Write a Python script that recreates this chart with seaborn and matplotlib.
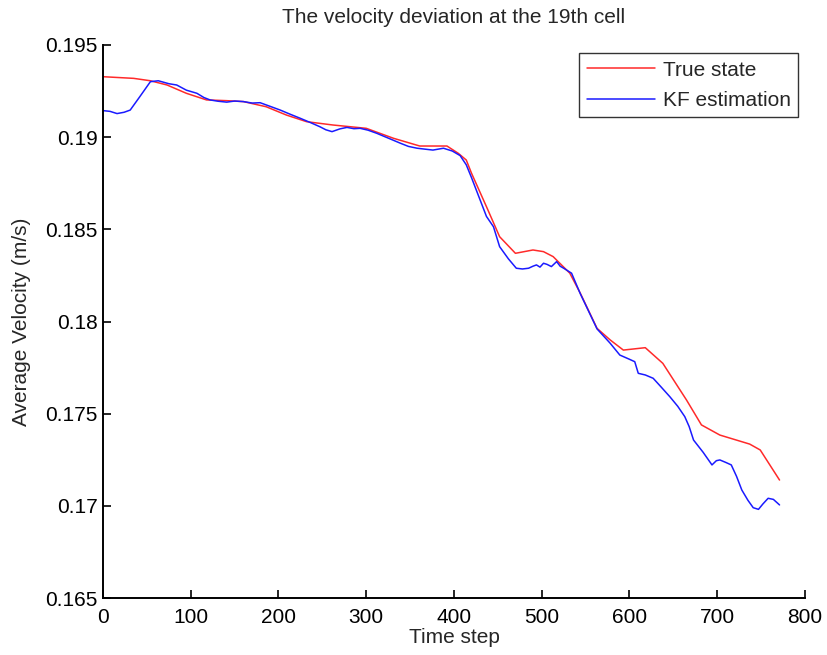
import numpy as np
import pandas as pd
import matplotlib
matplotlib.use("Agg")
import matplotlib.pyplot as plt
import seaborn as sns

# True state (red)
true_t = [0, 35, 54, 73, 95, 118, 141, 160, 186, 209, 232, 262, 300, 331, 361,
          392, 405, 414, 420, 437, 452, 470, 490, 502, 513, 532, 544, 563, 578,
          593, 618, 638, 665, 682, 703, 737, 749, 771]
true_v = [0.19328, 0.19319, 0.19306, 0.19283, 0.19238, 0.19202, 0.19198, 0.19193,
          0.19165, 0.1912, 0.19084, 0.19066, 0.19048, 0.18994, 0.18952, 0.18952,
          0.18912, 0.18876, 0.18804, 0.18623, 0.1846, 0.1837, 0.18388, 0.18379,
          0.18352, 0.18262, 0.18153, 0.17963, 0.1790, 0.17845, 0.17858, 0.17773,
          0.17574, 0.17439, 0.17384, 0.17335, 0.17303, 0.1714]

# KF estimation (blue)
kf_t = [0, 8, 16, 24, 31, 42, 54, 63, 75, 84, 95, 107, 115, 122, 131, 141, 150,
        160, 170, 179, 190, 202, 213, 225, 236, 247, 254, 261, 270, 278, 286, 293,
        302, 312, 325, 339, 348, 358, 367, 376, 388, 398, 407, 414, 420, 437, 445,
        452, 462, 471, 478, 485, 490, 494, 498, 502, 506, 511, 517, 521, 525, 534,
        544, 563, 578, 589, 600, 606, 610, 618, 627, 636, 646, 655, 663, 668, 673,
        684, 694, 699, 703, 710, 716, 722, 728, 735, 741, 747, 752, 758, 764, 771]
kf_v = [0.19144, 0.19140, 0.19128, 0.19135, 0.19147, 0.1922, 0.19301, 0.19306,
        0.19290, 0.19283, 0.19255, 0.19238, 0.19215, 0.19202, 0.19195, 0.19190,
        0.19196, 0.19193, 0.19185, 0.19187, 0.19168, 0.19147, 0.19125, 0.19102,
        0.19080, 0.19057, 0.19040, 0.19030, 0.19045, 0.19053, 0.19046, 0.19048,
        0.19038, 0.19021, 0.18995, 0.18967, 0.18950, 0.18940, 0.18935, 0.18930,
        0.18940, 0.18925, 0.18900, 0.18850, 0.1878, 0.1857, 0.18514, 0.18406,
        0.18340, 0.18289, 0.18285, 0.18289, 0.18300, 0.18307, 0.18295, 0.18316,
        0.18310, 0.18298, 0.18325, 0.18300, 0.18289, 0.18262, 0.1815, 0.1796,
        0.17882, 0.17818, 0.17795, 0.17782, 0.17719, 0.17710, 0.17692, 0.17645,
        0.17592, 0.17540, 0.17484, 0.17430, 0.17357, 0.17290, 0.17222, 0.17245,
        0.17249, 0.17235, 0.17222, 0.17160, 0.17086, 0.17030, 0.16990, 0.16981,
        0.17010, 0.17041, 0.17035, 0.17005]

x_ticks = [0, 100, 200, 300, 400, 500, 600, 700, 800]
y_ticks = [0.165, 0.17, 0.175, 0.18, 0.185, 0.19, 0.195]
y_labels = ["0.165", "0.17", "0.175", "0.18", "0.185", "0.19", "0.195"]

df = pd.concat([
    pd.DataFrame({"t": true_t, "v": true_v, "series": "True state"}),
    pd.DataFrame({"t": kf_t, "v": kf_v, "series": "KF estimation"}),
])

sns.set_style("ticks")
plt.rcParams["font.family"] = ["Liberation Sans", "DejaVu Sans"]
fs = 15

fig = plt.figure(figsize=(8.28, 6.55), dpi=100)
ax = fig.add_axes([0.1244, 0.087, 0.8478, 0.8443])

sns.lineplot(data=df, x="t", y="v", hue="series", palette=["#ff2a2a", "#1a1aff"],
             sort=False, estimator=None, linewidth=1.1, ax=ax)

ax.set_xlim(0, 800)
ax.set_ylim(0.165, 0.195)
ax.set_xticks(x_ticks)
ax.set_yticks(y_ticks)
ax.set_xticklabels([str(v) for v in x_ticks])
ax.set_yticklabels(y_labels)
ax.tick_params(direction="in", length=6, width=1.2, labelsize=fs, colors="black")
ax.tick_params(axis="x", pad=7)
ax.tick_params(axis="y", pad=4)
for s in ["left", "bottom"]:
    ax.spines[s].set_linewidth(1.4)
    ax.spines[s].set_color("black")
sns.despine(ax=ax)

ax.set_xlabel("Time step", fontsize=fs, labelpad=1)
ax.set_ylabel("Average Velocity (m/s)", fontsize=fs, labelpad=10)
ax.set_title("The velocity deviation at the 19th cell", fontsize=fs, pad=16)

leg = ax.legend(loc="upper right", fontsize=fs, frameon=True, fancybox=False,
                edgecolor="black", handlelength=3.3, handletextpad=0.35,
                borderpad=0.35, labelspacing=0.55, borderaxespad=0,
                bbox_to_anchor=(0.99, 0.985))
leg.get_frame().set_linewidth(1.0)

fig.savefig("out.png", dpi=100)
